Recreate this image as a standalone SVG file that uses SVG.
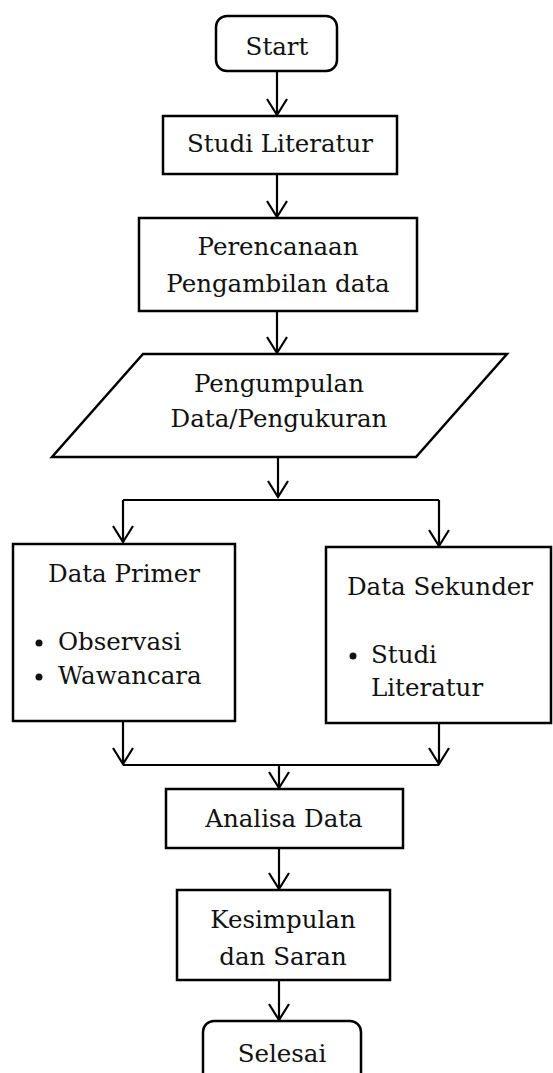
<svg xmlns="http://www.w3.org/2000/svg" width="553" height="1073" viewBox="0 0 553 1073">
<style>
.b{fill:#fff;stroke:#000;stroke-width:2.5}
.c{fill:none;stroke:#000;stroke-width:2.2}
text{font-family:"DejaVu Serif","Liberation Serif",serif;font-size:24.5px;fill:#111}
.m{text-anchor:middle}
</style>
<defs>
<path id="v" d="M-10,-16 L0,0 L10,-16" fill="none" stroke="#000" stroke-width="2.2"/>
</defs>
<g id="connectors">
<path class="c" d="M277,71 V115"/><use href="#v" x="277" y="115"/>
<path class="c" d="M277,174 V217"/><use href="#v" x="277" y="217"/>
<path class="c" d="M277,311 V353"/><use href="#v" x="277" y="353"/>
<path class="c" d="M278,457 V497"/><use href="#v" x="278" y="497"/>
<path class="c" d="M123,500 H439"/>
<path class="c" d="M123,500 V542"/><use href="#v" x="123" y="542"/>
<path class="c" d="M439,500 V546"/><use href="#v" x="439" y="546"/>
<path class="c" d="M123,721 V764"/><use href="#v" x="123" y="764"/>
<path class="c" d="M439,723 V764"/><use href="#v" x="439" y="764"/>
<path class="c" d="M123,765 H439"/>
<path class="c" d="M279,765 V788"/><use href="#v" x="279" y="788"/>
<path class="c" d="M279,848 V889"/><use href="#v" x="279" y="889"/>
<path class="c" d="M279,980 V1020"/><use href="#v" x="279" y="1020"/>
</g>
<g id="start">
<rect class="b" x="216" y="16" width="121" height="55" rx="11"/>
<text class="m" x="277" y="55">Start</text>
</g>
<g id="studi-literatur">
<rect class="b" x="163" y="116" width="234" height="58"/>
<text class="m" x="280" y="152">Studi Literatur</text>
</g>
<g id="perencanaan">
<rect class="b" x="139" y="218" width="278" height="93"/>
<text class="m" x="278" y="255">Perencanaan</text>
<text class="m" x="278" y="292">Pengambilan data</text>
</g>
<g id="pengumpulan">
<path class="b" d="M143,354 H507 L416,457 H52 Z"/>
<text class="m" x="279" y="392">Pengumpulan</text>
<text class="m" x="279" y="427">Data/Pengukuran</text>
</g>
<g id="data-primer">
<rect class="b" x="13" y="544" width="222" height="177"/>
<text class="m" x="124" y="582">Data Primer</text>
<circle cx="39" cy="643" r="3.5" fill="#111"/>
<text x="58" y="650">Observasi</text>
<circle cx="39" cy="677" r="3.5" fill="#111"/>
<text x="58" y="684">Wawancara</text>
</g>
<g id="data-sekunder">
<rect class="b" x="326" y="547" width="225" height="176"/>
<text class="m" x="440" y="595">Data Sekunder</text>
<circle cx="353" cy="656" r="3.5" fill="#111"/>
<text x="371" y="663">Studi</text>
<text x="371" y="696">Literatur</text>
</g>
<g id="analisa-data">
<rect class="b" x="166" y="789" width="237" height="59"/>
<text class="m" x="284" y="827">Analisa Data</text>
</g>
<g id="kesimpulan">
<rect class="b" x="177" y="890" width="213" height="90"/>
<text class="m" x="283" y="928">Kesimpulan</text>
<text class="m" x="283" y="965">dan Saran</text>
</g>
<g id="selesai">
<rect class="b" x="203" y="1021" width="158" height="65" rx="11"/>
<text class="m" x="282" y="1062">Selesai</text>
</g>
</svg>
